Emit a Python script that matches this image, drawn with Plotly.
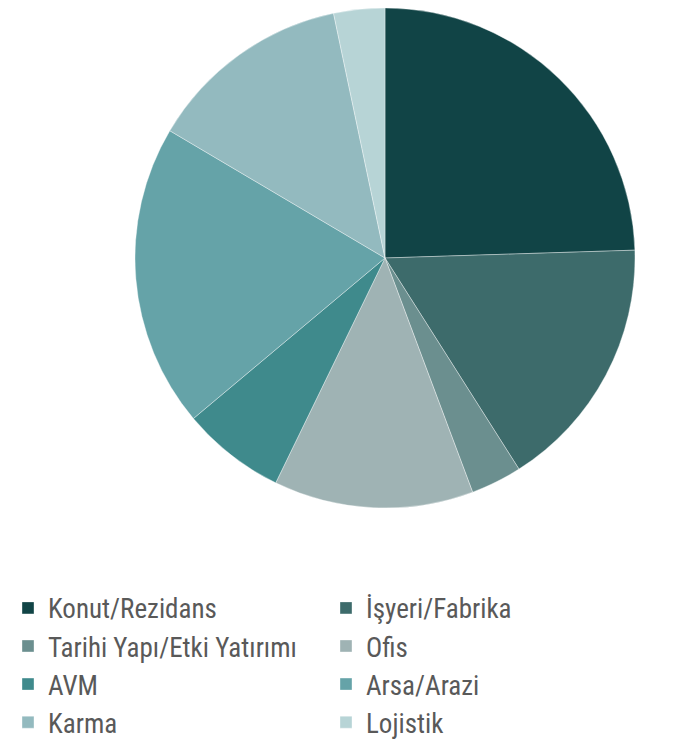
import plotly.graph_objects as go

categories = ["Konut/Rezidans", "İşyeri/Fabrika", "Tarihi Yapı/Etki Yatırımı", "Ofis",
              "AVM", "Arsa/Arazi", "Karma", "Lojistik"]
shares = [24.5, 16.5, 3.3, 12.9, 6.7, 19.6, 13.2, 3.3]
colors = ["#114446", "#3d6b6b", "#6b8f8f", "#9fb3b4",
          "#3f8a8c", "#65a3a8", "#93babf", "#b7d4d6"]

fig = go.Figure(go.Pie(
    labels=categories, values=shares, sort=False, direction="clockwise", rotation=0,
    marker=dict(colors=colors, line=dict(color="rgba(255,255,255,0.6)", width=0.6)),
    textinfo="none", hoverinfo="label+percent",
    domain=dict(x=[127/675, 627/675], y=[243/743, 1.0]),
))

fig.update_layout(
    width=675, height=743,
    margin=dict(l=0, r=0, t=0, b=0, autoexpand=False),
    paper_bgcolor="white", plot_bgcolor="white",
    showlegend=True,
    legend=dict(
        orientation="h", x=0.0, xanchor="left", y=0.225, yanchor="top",
        entrywidth=273, entrywidthmode="pixels",
        font=dict(family="Roboto Condensed, Liberation Sans Narrow, Roboto, sans-serif",
                  size=27, color="#595959"),
        itemclick=False, tracegroupgap=0,
    ),
)

fig.write_html("out.html")
